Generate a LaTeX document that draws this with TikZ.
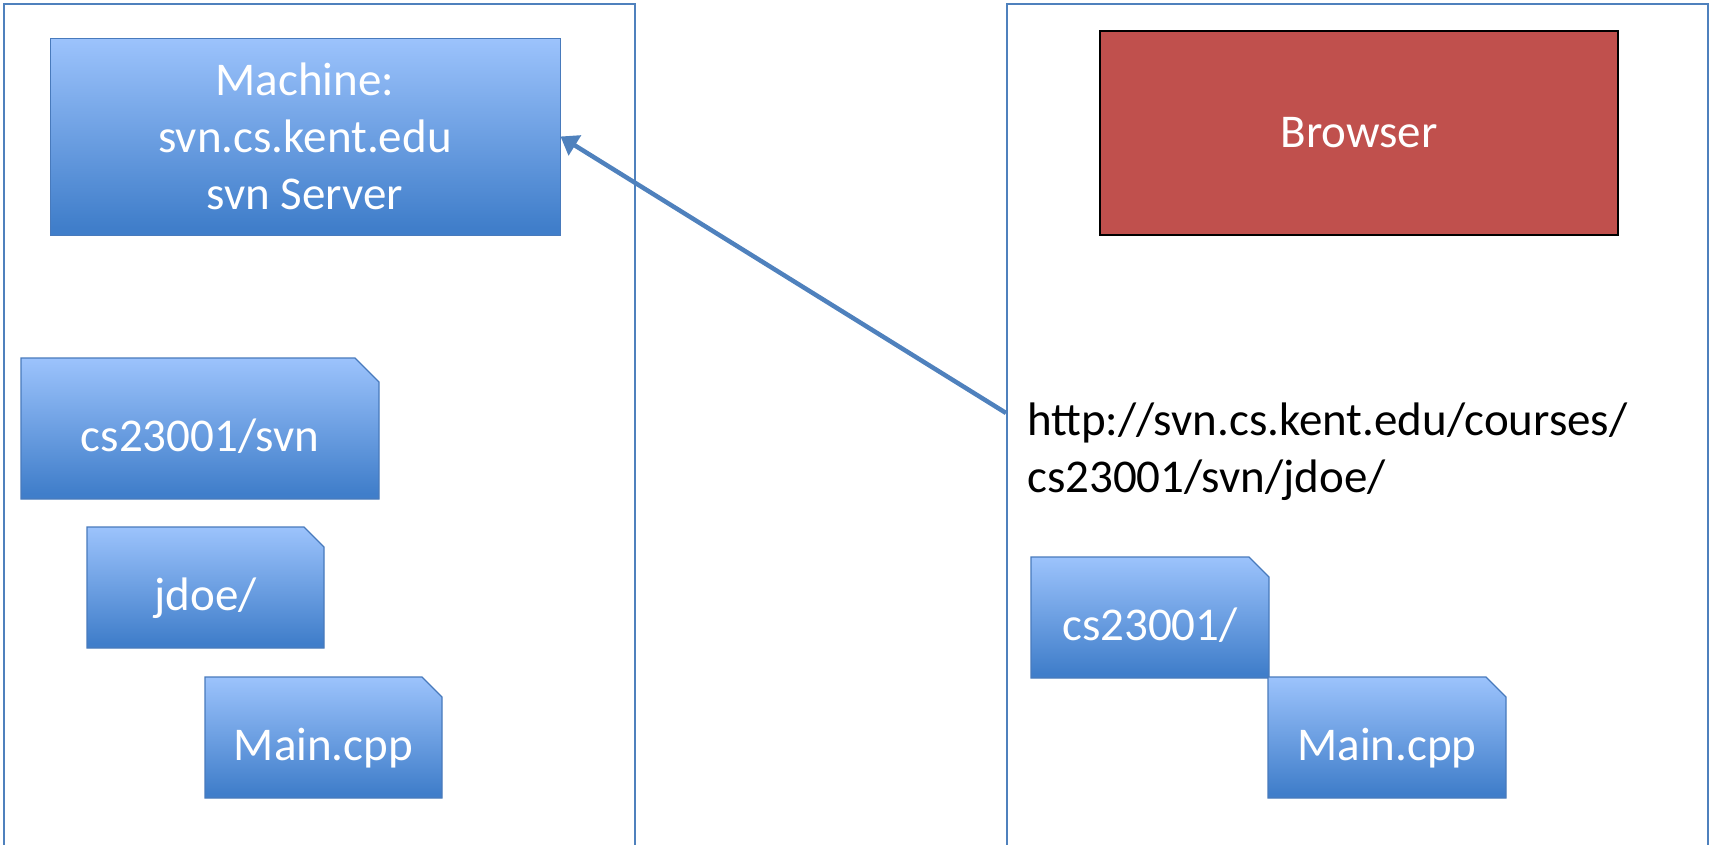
\documentclass[tikz,border=0pt]{standalone}
\usepackage{fontspec}
\setmainfont{Carlito}
\usetikzlibrary{arrows.meta}
\definecolor{edgeblue}{RGB}{79,129,189}
\definecolor{flight}{RGB}{156,195,252}
\definecolor{fdark}{RGB}{64,126,202}
\definecolor{folderedge}{RGB}{72,122,188}
\definecolor{browserred}{RGB}{192,80,77}
% light at the top, darker towards the bottom
\pgfdeclareverticalshading{bluegrad}{100bp}{color(0bp)=(fdark); color(27bp)=(fdark); color(75bp)=(flight); color(100bp)=(flight)}

% folder: name, centre x, centre y, width, height, corner cut, label
\newcommand\folderbox[7]{%
  \path[folderbody] ({#2-#4/2},{#3+#5/2}) -- ({#2-#4/2},{#3-#5/2})
    -- ({#2+#4/2-#6},{#3-#5/2}) -- ({#2+#4/2},{#3-#5/2+#6})
    -- ({#2+#4/2},{#3+#5/2}) -- cycle;
  \node[foldertext, minimum width=#4pt, minimum height=#5pt] (#1) at (#2,#3) {#7};
}

\begin{document}
\begin{tikzpicture}[x=1pt,y=-1pt,
  panel/.style={draw=edgeblue, line width=1.8pt, rectangle, anchor=north west, inner sep=0pt},
  bigtext/.style={font=\fontsize{47}{57}\selectfont},
  server/.style={rectangle, shading=bluegrad, draw=folderedge, line width=1pt,
    text=white, align=center, bigtext, inner sep=0pt},
  browser/.style={rectangle, fill=browserred, draw=black, line width=2.5pt,
    text=white, bigtext, inner sep=0pt},
  folderbody/.style={shading=bluegrad, draw=folderedge, line width=1.2pt, line join=miter},
  foldertext/.style={rectangle, text=white, bigtext, inner sep=0pt, text depth=0pt, yshift=-7pt},
  link/.style={draw=edgeblue, line width=4.5pt, -{Triangle[length=17pt,width=23pt]}}
]
\useasboundingbox (0,0) rectangle (1711,844);
\clip (0,0) rectangle (1711,844);

% the two machines
\node[panel, minimum width=631pt, minimum height=920pt] (lpanel) at (3,3) {};
\node[panel, minimum width=701pt, minimum height=920pt] (rpanel) at (1006,3) {};

% server side
\node[server, minimum width=510pt, minimum height=197pt] (server) at (305,136.5)
  {Machine:\\svn.cs.kent.edu\\svn Server};
\folderbox{repo}{200}{428.5}{358}{141}{24}{cs23001/svn}
\folderbox{user}{205.5}{587.5}{237}{121}{20}{jdoe/}
\folderbox{smain}{323.5}{737.5}{237}{121}{20}{Main.cpp}

% client side
\node[browser, minimum width=518pt, minimum height=204pt] (browser) at (1359,133) {Browser};
\node[anchor=base west, align=left, bigtext, inner sep=0pt, text=black] (url) at (1027,492)
  {http://svn.cs.kent.edu/courses/\\cs23001/svn/jdoe/};
\folderbox{course}{1150}{617.5}{238}{121}{20}{cs23001/}
\folderbox{cmain}{1387}{737.5}{238}{121}{20}{Main.cpp}

% request from the browser to the server
\coordinate (req) at (1006,413);
\draw[link] (req) -- (server.east);
\end{tikzpicture}
\end{document}
